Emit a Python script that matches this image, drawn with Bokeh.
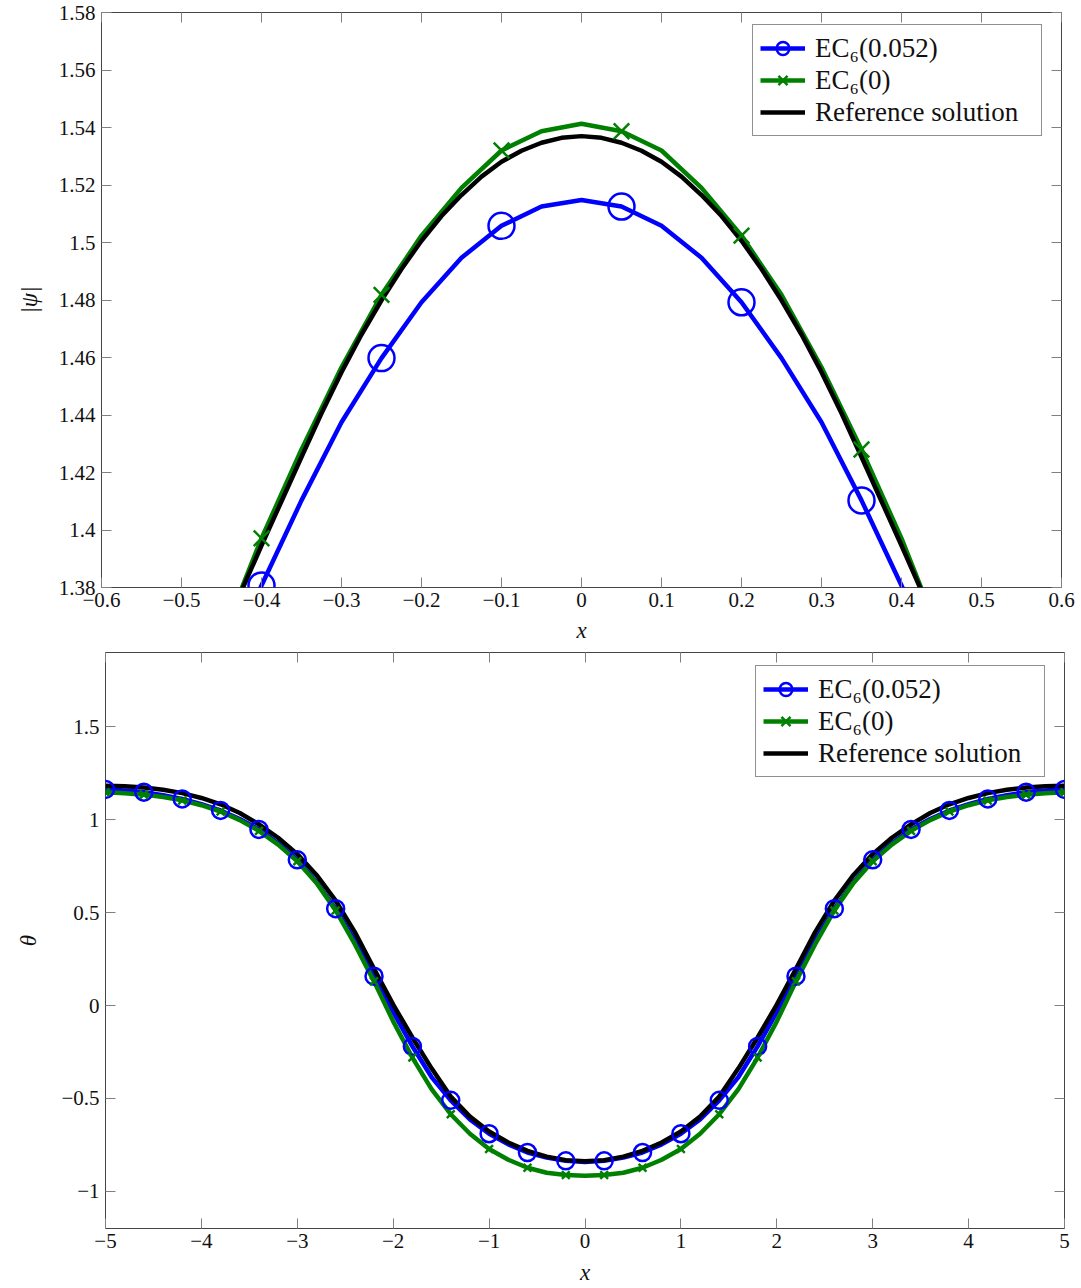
from bokeh.plotting import figure
from bokeh.models import (Range1d, FixedTicker, LinearAxis, CustomJSTickFormatter,
                          Legend, LegendItem)
from bokeh.embed import file_html
from bokeh.resources import INLINE

FONT = "Liberation Serif"
BLUE = "#0000ff"
GREEN = "#008000"
BLACK = "#000000"

# ---------------- top panel data : |psi| ----------------
x_top = [-0.45, -0.40, -0.35, -0.30, -0.25, -0.20, -0.15, -0.10, -0.05, 0.00,
         0.05, 0.10, 0.15, 0.20, 0.25, 0.30, 0.35, 0.40, 0.45]
ec_052_top = [1.350, 1.3807, 1.4103, 1.4375, 1.4598, 1.4792, 1.4947, 1.5058, 1.5125, 1.5148,
              1.5125, 1.5058, 1.4947, 1.4792, 1.4598, 1.4375, 1.4103, 1.3807, 1.350]
ec_0_top = [1.362, 1.3971, 1.4280, 1.4566, 1.4818, 1.5024, 1.5190, 1.5320, 1.5387, 1.5413,
            1.5387, 1.5320, 1.5190, 1.5024, 1.4818, 1.4566, 1.4280, 1.3971, 1.362]
x_ref_top = [-0.450, -0.425, -0.400, -0.375, -0.350, -0.325, -0.300, -0.275, -0.250, -0.225,
             -0.200, -0.175, -0.150, -0.125, -0.100, -0.075, -0.050, -0.025, 0.000,
             0.025, 0.050, 0.075, 0.100, 0.125, 0.150, 0.175, 0.200, 0.225, 0.250,
             0.275, 0.300, 0.325, 0.350, 0.375, 0.400, 0.425, 0.450]
ref_top = [1.3625, 1.3788, 1.3946, 1.4100, 1.4254, 1.4406, 1.4549, 1.4680, 1.4799, 1.4908,
           1.5006, 1.5092, 1.5165, 1.5229, 1.5281, 1.5319, 1.5347, 1.5364, 1.5370,
           1.5364, 1.5347, 1.5319, 1.5281, 1.5229, 1.5165, 1.5092, 1.5006, 1.4908, 1.4799,
           1.4680, 1.4549, 1.4406, 1.4254, 1.4100, 1.3946, 1.3788, 1.3625]
x_ticks_top = [-0.6, -0.5, -0.4, -0.3, -0.2, -0.1, 0.0, 0.1, 0.2, 0.3, 0.4, 0.5, 0.6]
y_ticks_top = [1.38, 1.40, 1.42, 1.44, 1.46, 1.48, 1.50, 1.52, 1.54, 1.56, 1.58]

# ---------------- bottom panel data : theta ----------------
x_bot = [-5.0, -4.8, -4.6, -4.4, -4.2, -4.0, -3.8, -3.6, -3.4, -3.2, -3.0, -2.8, -2.6,
         -2.4, -2.2, -2.0, -1.8, -1.6, -1.4, -1.2, -1.0, -0.8, -0.6, -0.4, -0.2, 0.0,
         0.2, 0.4, 0.6, 0.8, 1.0, 1.2, 1.4, 1.6, 1.8, 2.0, 2.2, 2.4, 2.6, 2.8, 3.0,
         3.2, 3.4, 3.6, 3.8, 4.0, 4.2, 4.4, 4.6, 4.8, 5.0]
ec_052_bot = [1.163, 1.157, 1.148, 1.132, 1.112, 1.084, 1.050, 1.004, 0.948, 0.873, 0.784,
              0.665, 0.521, 0.350, 0.158, -0.035, -0.220, -0.385, -0.510, -0.613, -0.690,
              -0.747, -0.791, -0.818, -0.836, -0.842,
              -0.836, -0.818, -0.791, -0.747, -0.690, -0.613, -0.510, -0.385, -0.220, -0.035,
              0.158, 0.350, 0.521, 0.665, 0.784, 0.873, 0.948, 1.004, 1.050, 1.084, 1.112,
              1.132, 1.148, 1.157, 1.163]
ec_0_bot = [1.148, 1.143, 1.135, 1.122, 1.104, 1.078, 1.044, 0.998, 0.940, 0.866, 0.776,
            0.660, 0.512, 0.330, 0.130, -0.085, -0.280, -0.450, -0.585, -0.690, -0.772,
            -0.830, -0.873, -0.900, -0.912, -0.916,
            -0.912, -0.900, -0.873, -0.830, -0.772, -0.690, -0.585, -0.450, -0.280, -0.085,
            0.130, 0.330, 0.512, 0.660, 0.776, 0.866, 0.940, 0.998, 1.044, 1.078, 1.104,
            1.122, 1.135, 1.143, 1.148]
ref_bot = [1.183, 1.180, 1.174, 1.161, 1.143, 1.117, 1.083, 1.036, 0.975, 0.903, 0.815,
           0.703, 0.565, 0.395, 0.198, 0.005, -0.172, -0.338, -0.490, -0.598, -0.678,
           -0.737, -0.782, -0.813, -0.832, -0.838,
           -0.832, -0.813, -0.782, -0.737, -0.678, -0.598, -0.490, -0.338, -0.172, 0.005,
           0.198, 0.395, 0.565, 0.703, 0.815, 0.903, 0.975, 1.036, 1.083, 1.117, 1.143,
           1.161, 1.174, 1.180, 1.183]
x_ticks_bot = [-5, -4, -3, -2, -1, 0, 1, 2, 3, 4, 5]
y_ticks_bot = [-1.0, -0.5, 0.0, 0.5, 1.0, 1.5]

labels = ["EC\u2086(0.052)", "EC\u2086(0)", "Reference solution"]

TICK_FMT = """
const v = Math.round(tick * 1000) / 1000;
let s = String(v);
if (v < 0) { s = '\u2212' + s.slice(1); }
return s;
"""


def style_axis(ax, ticks, labelled, standoff=5):
    ax.ticker = FixedTicker(ticks=ticks)
    ax.major_tick_in = 10
    ax.major_tick_out = 0
    ax.minor_tick_in = 0
    ax.minor_tick_out = 0
    ax.major_tick_line_color = "#808080"
    ax.major_tick_line_width = 1
    ax.axis_line_color = None
    if labelled:
        ax.formatter = CustomJSTickFormatter(code=TICK_FMT)
        ax.major_label_text_font = FONT
        ax.major_label_text_font_size = "21px"
        ax.major_label_text_color = "#111111"
        ax.major_label_standoff = standoff
        ax.axis_label_text_font = FONT
        ax.axis_label_text_font_size = "23px"
        ax.axis_label_text_font_style = "italic"
        ax.axis_label_text_color = "#111111"
    else:
        ax.formatter = CustomJSTickFormatter(code="return '';")
        ax.major_label_text_font_size = "0px"
        ax.major_label_standoff = 0
        ax.axis_label_standoff = 0


def make_panel(width, height, xr, yr, mb, xt, yt, ylabel, xs, ys, xm, ym,
               ref_x, ref_y, csize, xsize, leg_loc, ystand, xstand):
    p = figure(width=width, height=height, x_range=Range1d(*xr), y_range=Range1d(*yr),
               output_backend="svg", toolbar_location=None,
               min_border_left=mb[0], min_border_right=mb[1],
               min_border_top=mb[2], min_border_bottom=mb[3])
    p.xgrid.visible = False
    p.ygrid.visible = False
    p.outline_line_color = "#444444"
    p.outline_line_width = 1
    p.background_fill_color = "white"
    p.border_fill_color = "white"

    xa = p.xaxis[0]
    ya = p.yaxis[0]
    style_axis(xa, xt, True, 5)
    style_axis(ya, yt, True, 6)
    xa.axis_label = "x"
    xa.axis_label_standoff = xstand
    ya.axis_label = ylabel
    ya.axis_label_standoff = ystand

    top_ax = LinearAxis()
    style_axis(top_ax, xt, False)
    p.add_layout(top_ax, "above")
    right_ax = LinearAxis()
    style_axis(right_ax, yt, False)
    p.add_layout(right_ax, "right")

    b_line = p.line(xs, ys[0], line_color=BLUE, line_width=4.5, line_join="round")
    g_line = p.line(xs, ys[1], line_color=GREEN, line_width=4.5, line_join="round")
    k_line = p.line(ref_x, ref_y, line_color=BLACK, line_width=4.5, line_join="round")
    b_mark = p.scatter(xm, ym[0], marker="circle", size=csize, fill_color=None,
                       line_color=BLUE, line_width=2.5)
    g_mark = p.scatter(xm, ym[1], marker="x", size=xsize, line_color=GREEN, line_width=2.5)

    legend = Legend(items=[
        LegendItem(label=labels[0], renderers=[b_line, b_mark]),
        LegendItem(label=labels[1], renderers=[g_line, g_mark]),
        LegendItem(label=labels[2], renderers=[k_line]),
    ], location=leg_loc)
    legend.label_text_font = FONT
    legend.label_text_font_size = "27px"
    legend.label_text_color = "#111111"
    legend.glyph_width = 45
    legend.glyph_height = 32
    legend.label_height = 32
    legend.label_width = 219
    legend.label_standoff = 10
    legend.spacing = 0
    legend.padding = 7
    legend.margin = 0
    legend.border_line_color = "#222222"
    legend.border_line_width = 1
    legend.background_fill_color = "white"
    legend.background_fill_alpha = 1.0
    p.add_layout(legend)
    return p


top_mx = x_top[1::3]
top_my = [ec_052_top[1::3], ec_0_top[1::3]]
p1 = make_panel(1081, 645, (-0.6, 0.6), (1.38, 1.58), (101, 20, 12, 58),
                x_ticks_top, y_ticks_top, "|\u03c8|", x_top, [ec_052_top, ec_0_top],
                top_mx, top_my, x_ref_top, ref_top, 26, 22, (651, 451), 14, 8)

bot_mx = x_bot[::2]
bot_my = [ec_052_bot[::2], ec_0_bot[::2]]
p2 = make_panel(1081, 643, (-5, 5), (-1.2, 1.9), (105, 17, 7, 60),
                x_ticks_bot, y_ticks_bot, "\u03b8", x_bot, [ec_052_bot, ec_0_bot],
                bot_mx, bot_my, x_bot, ref_bot, 17, 11, (650, 451), 17, 9)

open("out.html", "w").write(file_html([p1, p2], INLINE))
